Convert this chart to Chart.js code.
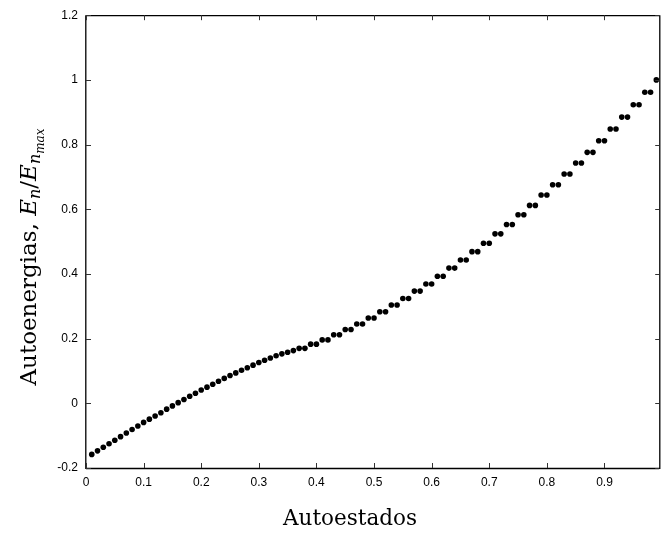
<!DOCTYPE html>
<html><head><meta charset="utf-8">
<script src="https://cdn.jsdelivr.net/npm/chart.js@4.4.1/dist/chart.umd.min.js"></script>
<style>html,body{margin:0;padding:0;background:#fff;overflow:hidden}#wrap{width:662px;height:533px}</style>
</head><body><div id="wrap"><canvas id="c" width="662" height="533"></canvas></div>
<script>
// ---- data ----
const stateFraction = [0.01,0.02,0.03,0.04,0.05,0.06,0.07,0.08,0.09,0.10,
0.11,0.12,0.13,0.14,0.15,0.16,0.17,0.18,0.19,0.20,
0.21,0.22,0.23,0.24,0.25,0.26,0.27,0.28,0.29,0.30,
0.31,0.32,0.33,0.34,0.35,0.36,0.37,0.38,0.39,0.40,
0.41,0.42,0.43,0.44,0.45,0.46,0.47,0.48,0.49,0.50,
0.51,0.52,0.53,0.54,0.55,0.56,0.57,0.58,0.59,0.60,
0.61,0.62,0.63,0.64,0.65,0.66,0.67,0.68,0.69,0.70,
0.71,0.72,0.73,0.74,0.75,0.76,0.77,0.78,0.79,0.80,
0.81,0.82,0.83,0.84,0.85,0.86,0.87,0.88,0.89,0.90,
0.91,0.92,0.93,0.94,0.95,0.96,0.97,0.98,0.99];
const energyRatio = [-0.158,-0.147,-0.136,-0.125,-0.114,-0.103,-0.092,-0.081,-0.070,-0.059,
-0.049,-0.039,-0.029,-0.018,-0.008,0.002,0.012,0.022,0.031,0.041,
0.050,0.059,0.068,0.077,0.086,0.094,0.102,0.110,0.118,0.126,
0.133,0.140,0.147,0.153,0.158,0.163,0.170,0.170,0.183,0.183,
0.196,0.196,0.212,0.212,0.228,0.228,0.245,0.245,0.264,0.264,
0.283,0.283,0.304,0.304,0.324,0.324,0.347,0.347,0.369,0.369,
0.393,0.393,0.418,0.418,0.443,0.443,0.469,0.469,0.495,0.495,
0.524,0.524,0.553,0.553,0.583,0.583,0.612,0.612,0.644,0.644,
0.676,0.676,0.709,0.709,0.743,0.743,0.776,0.776,0.812,0.812,
0.848,0.848,0.885,0.885,0.923,0.923,0.962,0.962,1.000];
const xTickValues = [0,0.1,0.2,0.3,0.4,0.5,0.6,0.7,0.8,0.9];
const yTickValues = [-0.2,0,0.2,0.4,0.6,0.8,1,1.2];
const xAxisTitle = 'Autoestados';
const yAxisTitleParts = [
  {text:'Autoenergias, ', style:'', size:23, shift:0},
  {text:'E', style:'italic ', size:23, shift:0},
  {text:'n', style:'italic ', size:16, shift:4},
  {text:'/', style:'', size:23, shift:0},
  {text:'E', style:'italic ', size:23, shift:0},
  {text:'n', style:'italic ', size:16, shift:4},
  {text:'max', style:'italic ', size:12, shift:8}
];

const points = stateFraction.map((x,i)=>({x:x, y:energyRatio[i]}));
const fmt = v => String(Number(v.toFixed(1)));
const SERIF = '"DejaVu Serif", serif';

const framePlugin = {
  id:'frame',
  afterDraw(chart){
    const ctx = chart.ctx;
    const {left,right,top,bottom} = chart.chartArea;
    const xs = chart.scales.x, ys = chart.scales.y;
    ctx.save();
    ctx.strokeStyle = '#000';
    ctx.lineWidth = 1.3;
    ctx.beginPath();
    ctx.moveTo(left, top+0.5); ctx.lineTo(right, top+0.5);
    ctx.moveTo(left, bottom+0.5); ctx.lineTo(right, bottom+0.5);
    ctx.moveTo(left-0.2, top); ctx.lineTo(left-0.2, bottom+1);
    ctx.moveTo(right+0.6, top); ctx.lineTo(right+0.6, bottom+1);
    ctx.stroke();
    ctx.strokeStyle = '#333';
    ctx.lineWidth = 1;
    ctx.beginPath();
    xs.ticks.forEach(t=>{
      const px = Math.round(xs.getPixelForValue(t.value))+0.5;
      ctx.moveTo(px, bottom); ctx.lineTo(px, bottom-5);
      ctx.moveTo(px, top); ctx.lineTo(px, top+5);
    });
    ys.ticks.forEach(t=>{
      const py = Math.round(ys.getPixelForValue(t.value))+0.5;
      ctx.moveTo(left, py); ctx.lineTo(left+5, py);
      ctx.moveTo(right, py); ctx.lineTo(right-4, py);
    });
    ctx.stroke();
    // x title
    ctx.fillStyle = '#000';
    ctx.font = '21.5px ' + SERIF;
    ctx.textAlign = 'center';
    ctx.textBaseline = 'alphabetic';
    ctx.fillText(xAxisTitle, 350, 525);
    // y title (rotated)
    ctx.translate(36, 257);
    ctx.rotate(-Math.PI/2);
    ctx.textAlign = 'left';
    let total = 0;
    yAxisTitleParts.forEach(p=>{ ctx.font = p.style + p.size + 'px ' + SERIF; p.w = ctx.measureText(p.text).width; total += p.w; });
    let cx = -total/2;
    yAxisTitleParts.forEach(p=>{ ctx.font = p.style + p.size + 'px ' + SERIF; ctx.fillText(p.text, cx, p.shift); cx += p.w; });
    ctx.restore();
  }
};

new Chart(document.getElementById('c'), {
  type:'scatter',
  data:{datasets:[{data:points, backgroundColor:'#000', borderWidth:0, pointRadius:2.8, pointHoverRadius:2.8}]},
  options:{
    responsive:false, animation:false, devicePixelRatio:1,
    layout:{padding:{top:13,right:0,bottom:0,left:0}},
    plugins:{legend:{display:false}, tooltip:{enabled:false}},
    scales:{
      x:{type:'linear', min:0, max:0.995,
         afterBuildTicks(s){ s.ticks = xTickValues.map(v=>({value:v})); },
         afterFit(s){ s.height = 65; },
         grid:{display:false, drawTicks:false}, border:{display:false},
         ticks:{padding:7, color:'#000', font:{family:'"Liberation Sans", Arial, sans-serif', size:12}, maxRotation:0, autoSkip:false, callback:v=>fmt(v)}},
      y:{type:'linear', min:-0.2, max:1.2,
         afterBuildTicks(s){ s.ticks = yTickValues.map(v=>({value:v})); },
         afterFit(s){ s.width = 86; },
         grid:{display:false, drawTicks:false}, border:{display:false},
         ticks:{padding:8, color:'#000', font:{family:'"Liberation Sans", Arial, sans-serif', size:12}, autoSkip:false, callback:v=>fmt(v)}}
    }
  },
  plugins:[framePlugin]
});
</script></body></html>
